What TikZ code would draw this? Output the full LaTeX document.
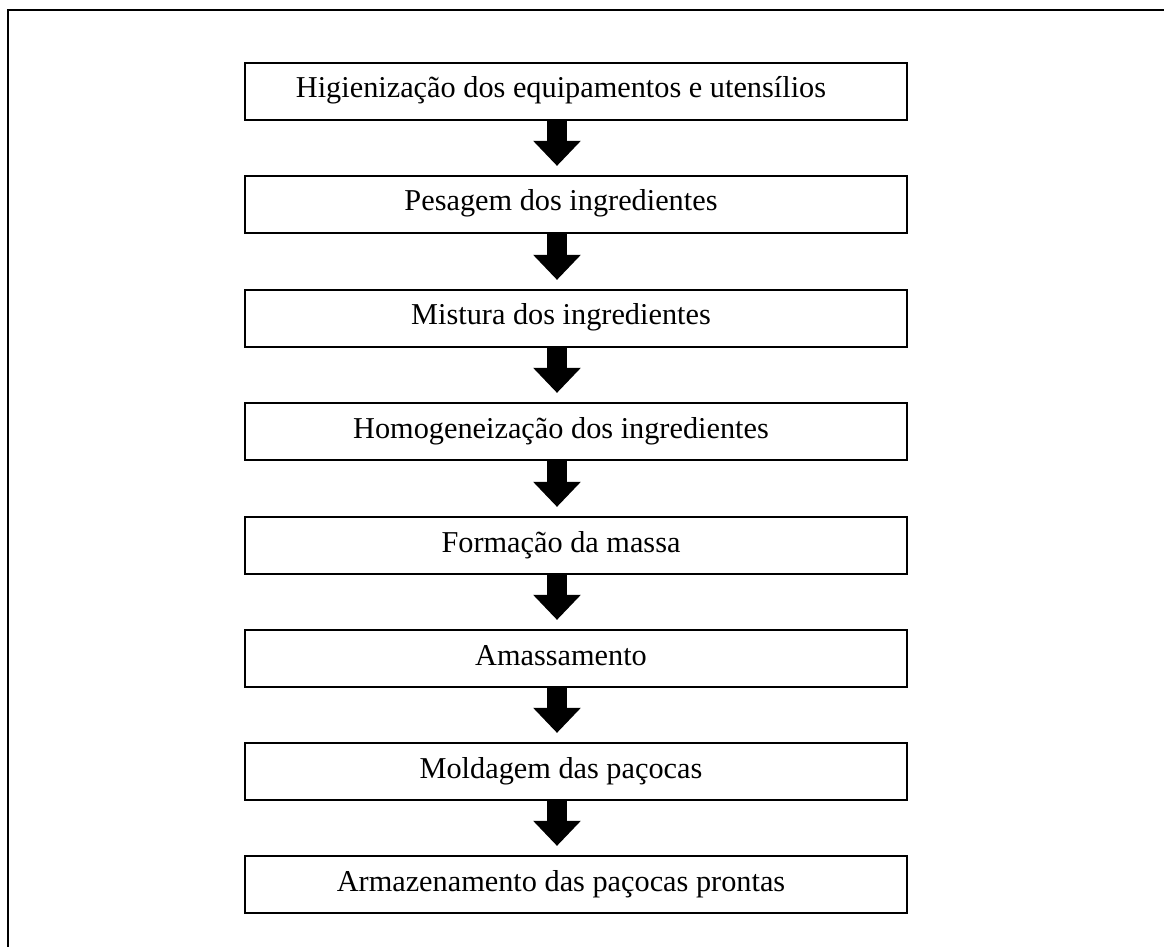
\documentclass[tikz,border=0pt]{standalone}
\usepackage{fontspec}
\setmainfont{Liberation Serif}
\usetikzlibrary{arrows.meta,calc}
\begin{document}
\begin{tikzpicture}[x=0.5pt,y=-0.5pt,
  stepbox/.style={draw, line width=1.1pt, rectangle, minimum width=331pt, minimum height=28.5pt, inner sep=0pt},
  steptext/.style={anchor=base, inner sep=0pt, font=\fontsize{15.15}{18}\selectfont},
  bigarrow/.style={line width=10pt, -{Triangle[width=23pt,length=12.5pt]}},
  frame/.style={line width=1.1pt}]
\useasboundingbox (0,0) rectangle (1164,947);
\coordinate (fa) at (8,947);
\coordinate (fb) at (8,10);
\coordinate (fc) at (1164,10);
\draw[frame] (fa) -- (fb) -- (fc);
\coordinate (ax) at (557,0);
\foreach \i/\t/\txt in {1/63/{Higienização dos equipamentos e utensílios},
                        2/176/{Pesagem dos ingredientes},
                        3/290/{Mistura dos ingredientes},
                        4/403/{Homogeneização dos ingredientes},
                        5/517/{Formação da massa},
                        6/630/{Amassamento},
                        7/743/{Moldagem das paçocas},
                        8/856/{Armazenamento das paçocas prontas}}{
  \node[stepbox] (b\i) at (576,\t+28.5) {};
  \node[steptext] (t\i) at (561,\t+35) {\txt};
}
\foreach \a/\b in {1/2,2/3,3/4,4/5,5/6,6/7,7/8}{
  \draw[bigarrow] (b\a.south -| ax) -- ($(b\b.north -| ax)+(0,-9)$);
}
\end{tikzpicture}
\end{document}
